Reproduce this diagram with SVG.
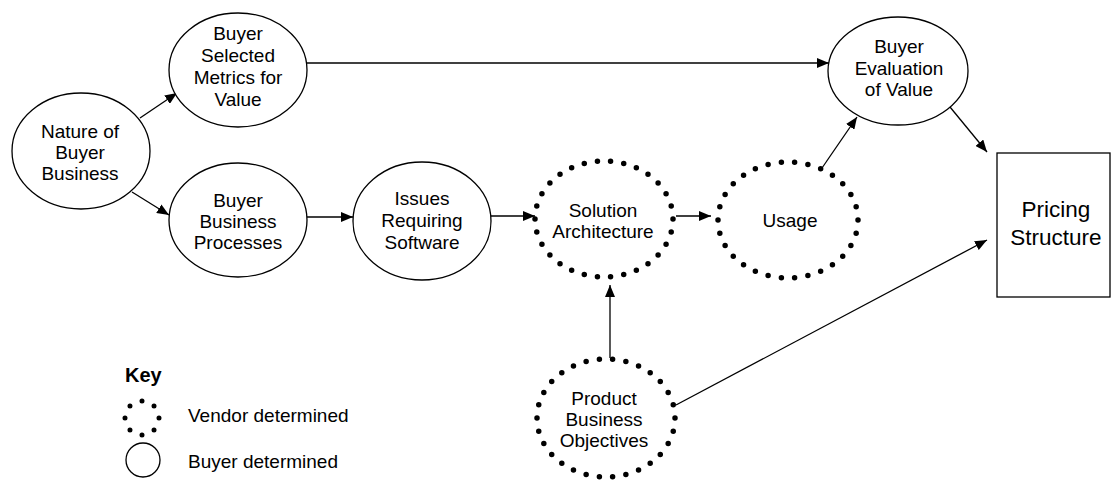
<svg xmlns="http://www.w3.org/2000/svg" width="1111" height="480" viewBox="0 0 1111 480">
<defs>
<style>
.n{fill:#fff;stroke:#000;stroke-width:1.3}
.d{fill:none;stroke:#000;stroke-width:5.5;stroke-linecap:round;stroke-dasharray:0 1}
.t{font-family:"Liberation Sans",Arial,sans-serif;font-size:19px;fill:#000;text-anchor:middle}
.p{font-size:22.5px}
.k{font-family:"Liberation Sans",Arial,sans-serif;font-size:19px;fill:#000}
.c{fill:none;stroke:#000;stroke-width:1.3;marker-end:url(#ah)}
</style>
<marker id="ah" markerUnits="userSpaceOnUse" markerWidth="13" markerHeight="10" refX="12" refY="5" orient="auto">
<path d="M0,0 L12,5 L0,10 z" fill="#000"/>
</marker>
</defs>
<rect width="1111" height="480" fill="#fff"/>
<g id="connectors">
<line class="c" x1="140" y1="118" x2="177" y2="93"/>
<line class="c" x1="132" y1="192" x2="169" y2="215"/>
<line class="c" x1="307" y1="63" x2="829" y2="63"/>
<line class="c" x1="307" y1="217" x2="353" y2="217"/>
<line class="c" x1="491" y1="216" x2="535" y2="216"/>
<line class="c" x1="676" y1="216" x2="711" y2="216"/>
<line class="c" x1="822" y1="168" x2="857" y2="117"/>
<line class="c" x1="950" y1="107" x2="987" y2="152"/>
<line class="c" x1="610" y1="358" x2="610" y2="285"/>
<line class="c" x1="676" y1="405" x2="987" y2="240"/>
</g>
<g id="nature">
<ellipse class="n" cx="81" cy="151" rx="69" ry="58"/>
<text class="t" x="80" y="138">Nature of</text>
<text class="t" x="80" y="159">Buyer</text>
<text class="t" x="80" y="180">Business</text>
</g>
<g id="metrics">
<ellipse class="n" cx="238" cy="70" rx="69" ry="57"/>
<text class="t" x="238" y="40">Buyer</text>
<text class="t" x="238" y="62">Selected</text>
<text class="t" x="238" y="84">Metrics for</text>
<text class="t" x="238" y="106">Value</text>
</g>
<g id="processes">
<ellipse class="n" cx="238" cy="220" rx="69" ry="57"/>
<text class="t" x="238" y="207">Buyer</text>
<text class="t" x="238" y="228">Business</text>
<text class="t" x="238" y="249">Processes</text>
</g>
<g id="issues">
<ellipse class="n" cx="422" cy="221" rx="69" ry="59"/>
<text class="t" x="422" y="205">Issues</text>
<text class="t" x="422" y="227">Requiring</text>
<text class="t" x="422" y="249">Software</text>
</g>
<g id="solution">
<ellipse class="d" cx="604" cy="219" rx="69" ry="58" pathLength="30"/>
<text class="t" x="603" y="217">Solution</text>
<text class="t" x="603" y="238">Architecture</text>
</g>
<g id="usage">
<ellipse class="d" cx="788" cy="220" rx="70" ry="58" pathLength="30"/>
<text class="t" x="790" y="227">Usage</text>
</g>
<g id="evaluation">
<ellipse class="n" cx="898" cy="71" rx="70" ry="54"/>
<text class="t" x="899" y="53">Buyer</text>
<text class="t" x="899" y="75">Evaluation</text>
<text class="t" x="899" y="96">of Value</text>
</g>
<g id="pricing">
<rect class="n" x="997" y="153" width="113" height="144"/>
<text class="t p" x="1056" y="217">Pricing</text>
<text class="t p" x="1056" y="245">Structure</text>
</g>
<g id="product">
<ellipse class="d" cx="606" cy="418" rx="69" ry="59" pathLength="30"/>
<text class="t" x="604" y="405">Product</text>
<text class="t" x="604" y="426">Business</text>
<text class="t" x="604" y="447">Objectives</text>
</g>
<g id="key">
<text class="k" x="125" y="382" style="font-weight:bold;font-size:20px">Key</text>
<circle class="d" cx="142" cy="418" r="17" pathLength="8" style="stroke-width:5"/>
<text class="k" x="188" y="422">Vendor determined</text>
<circle class="n" cx="143" cy="460" r="17"/>
<text class="k" x="188" y="468">Buyer determined</text>
</g>
</svg>
